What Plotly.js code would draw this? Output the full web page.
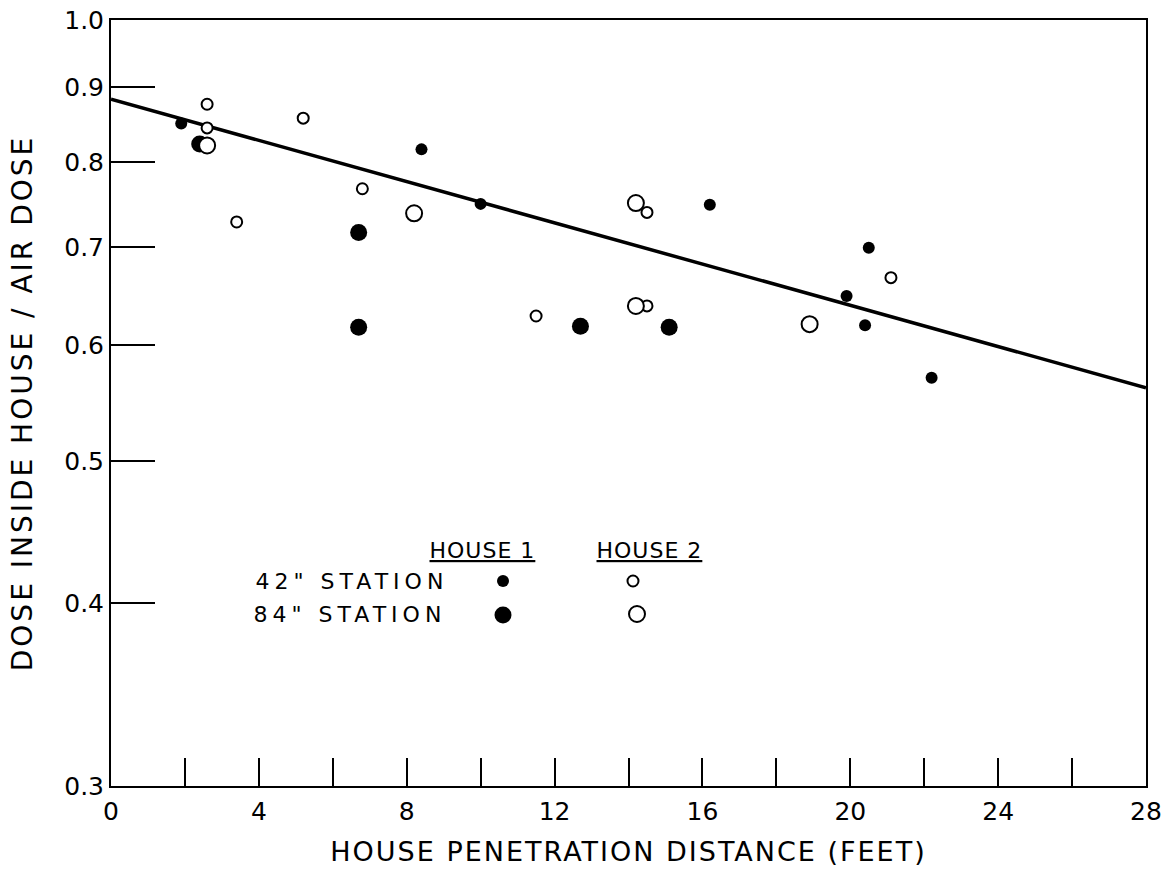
<!DOCTYPE html>
<html>
<head>
<meta charset="utf-8">
<script src="https://cdn.plot.ly/plotly-3.0.1.min.js"></script>
<style>
html,body{margin:0;padding:0;background:#fff;}
#chart{width:1164px;height:871px;}
#chart .xtitle{letter-spacing:2px;}
#chart .ytitle{letter-spacing:3px;}
#chart g.annotation[data-index="0"] text, #chart g.annotation[data-index="1"] text{letter-spacing:1px;}
#chart g.annotation[data-index="2"] text, #chart g.annotation[data-index="3"] text{letter-spacing:5px;}
</style>
</head>
<body>
<div id="chart"></div>
<script>
// House 1, 42" station (small filled)
const h1s42X = [1.9, 8.4, 10.0, 16.2, 20.5, 19.9, 20.4, 22.2];
const h1s42Y = [0.85, 0.816, 0.749, 0.748, 0.699, 0.648, 0.619, 0.570];
// House 1, 84" station (large filled)
const h1s84X = [2.4, 6.7, 6.7, 12.7, 15.1];
const h1s84Y = [0.823, 0.716, 0.617, 0.618, 0.617];
// House 2, 42" station (small open)
const h2s42X = [2.6, 2.6, 5.2, 3.4, 6.8, 14.5, 11.5, 14.5, 21.1];
const h2s42Y = [0.876, 0.844, 0.857, 0.728, 0.767, 0.739, 0.628, 0.638, 0.667];
// House 2, 84" station (large open)
const h2s84X = [2.6, 8.2, 14.2, 14.2, 18.9];
const h2s84Y = [0.821, 0.738, 0.750, 0.638, 0.620];
// Fitted line
const fitX = [0, 28];
const fitY = [0.883, 0.561];
// Axis ticks
const xTickVals = [0,2,4,6,8,10,12,14,16,18,20,22,24,26,28];
const xTickText = ['0','','4','','8','','12','','16','','20','','24','','28'];
const yTickVals = [0.3,0.4,0.5,0.6,0.7,0.8,0.9,1.0];
const yTickText = ['0.3','0.4','0.5','0.6','0.7','0.8','0.9','1.0'];
// Legend labels
const legendCols = ['HOUSE 1', 'HOUSE 2'];
const legendRows = ['42" STATION', '84" STATION'];

const FONT = 'DejaVu Sans, Liberation Sans, sans-serif';

const traces = [
  {x: fitX, y: fitY, mode: 'lines', line: {color: '#000', width: 3.5}, hoverinfo: 'skip'},
  {x: h1s42X, y: h1s42Y, mode: 'markers', marker: {size: 12, color: '#000', line: {width: 0}}},
  {x: h1s84X, y: h1s84Y, mode: 'markers', marker: {size: 17, color: '#000', line: {width: 0}}},
  {x: h2s42X, y: h2s42Y, mode: 'markers', marker: {size: 11, color: '#fff', line: {width: 2, color: '#000'}}},
  {x: h2s84X, y: h2s84Y, mode: 'markers', marker: {size: 16, color: '#fff', line: {width: 2, color: '#000'}}}
];

// paper coords helpers: plot area x 111..1146, y 20..786
const px = v => (v - 111) / (1146 - 111);
const py = v => (786 - v) / (786 - 20);

const ann = (x, y, text) => ({xref: 'paper', yref: 'paper', x: px(x), y: py(y), text, showarrow: false,
  xanchor: 'center', yanchor: 'middle', font: {family: FONT, size: 22, color: '#000'}});

const dot = (x, y, d, filled) => ({type: 'circle', xref: 'paper', yref: 'paper',
  xsizemode: 'pixel', ysizemode: 'pixel', xanchor: px(x), yanchor: py(y),
  x0: -d/2, x1: d/2, y0: -d/2, y1: d/2,
  fillcolor: filled ? '#000' : '#fff', line: {color: '#000', width: filled ? 0 : 2}});

const layout = {
  width: 1164, height: 871,
  margin: {l: 111, r: 18, t: 20, b: 85},
  paper_bgcolor: '#fff', plot_bgcolor: '#fff',
  showlegend: false, hovermode: false,
  font: {family: FONT, color: '#000'},
  xaxis: {
    range: [0, 28], tickvals: xTickVals, ticktext: xTickText,
    ticks: 'inside', ticklen: 28, tickwidth: 2, tickcolor: '#000',
    showline: true, linewidth: 2, linecolor: '#000', mirror: true,
    showgrid: false, zeroline: false, ticklabelstandoff: 2,
    tickfont: {family: FONT, size: 25, color: '#000'},
    title: {text: 'HOUSE PENETRATION DISTANCE (FEET)', font: {family: FONT, size: 27, color: '#000'}, standoff: 17}
  },
  yaxis: {
    type: 'log', range: [Math.log10(0.3), 0], tickvals: yTickVals, ticktext: yTickText,
    ticks: 'inside', ticklen: 44, tickwidth: 2, tickcolor: '#000',
    showline: true, linewidth: 2, linecolor: '#000', mirror: true,
    showgrid: false, zeroline: false,
    tickfont: {family: FONT, size: 25, color: '#000'},
    title: {text: 'DOSE INSIDE HOUSE / AIR DOSE', font: {family: FONT, size: 28, color: '#000'}, standoff: 23}
  },
  annotations: [
    ann(482, 550, '<u>' + legendCols[0] + '</u>'),
    ann(649, 550, '<u>' + legendCols[1] + '</u>'),
    ann(352, 581, legendRows[0]),
    ann(350, 614, legendRows[1])
  ],
  shapes: [
    dot(503, 581, 12, true),
    dot(503, 615, 17, true),
    dot(633, 581, 11, false),
    dot(637, 614, 16, false)
  ]
};

Plotly.newPlot('chart', traces, layout, {displayModeBar: false, staticPlot: true});
</script>
</body>
</html>
